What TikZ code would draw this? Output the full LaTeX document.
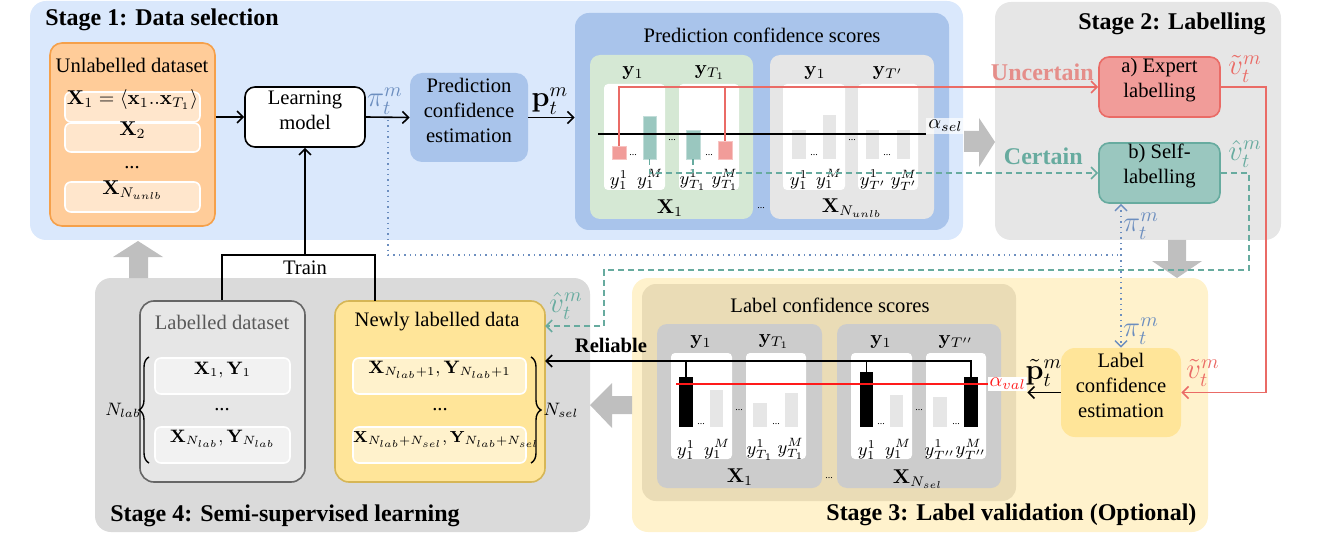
\documentclass[tikz,border=0pt]{standalone}
\usepackage{amsmath}
\usepackage[no-math]{fontspec}
\setmainfont{Liberation Serif}
\usetikzlibrary{fit,arrows.meta,decorations.pathreplacing}
\definecolor{sOneBg}{HTML}{DAE8FC}
\definecolor{blueBox}{HTML}{A9C4EB}
\definecolor{piBlue}{HTML}{6C8EBF}
\definecolor{greenPanel}{HTML}{D5E8D4}
\definecolor{pinkFill}{HTML}{F19C99}
\definecolor{redLine}{HTML}{EA6B66}
\definecolor{tealFill}{HTML}{9AC7BF}
\definecolor{tealLine}{HTML}{67AB9F}
\definecolor{grayPanel}{HTML}{E6E6E6}
\definecolor{sThreeBg}{HTML}{FFF2CC}
\definecolor{tanPanel}{HTML}{EADCB6}
\definecolor{midGray}{HTML}{CCCCCC}
\definecolor{yellowBox}{HTML}{FFE599}
\definecolor{yellowLine}{HTML}{D6B656}
\definecolor{sFourBg}{HTML}{DADADA}
\definecolor{orangeFill}{HTML}{FFCC99}
\definecolor{orangeLine}{HTML}{F5A04A}
\definecolor{orangeLight}{HTML}{FFE6CC}
\definecolor{arrowGray}{HTML}{BFBFBF}
\definecolor{uncert}{HTML}{E58E8A}
\definecolor{lightBar}{HTML}{E6E6E6}
\definecolor{rowGray}{HTML}{F2F2F2}
\definecolor{pureRed}{HTML}{FF1A1A}
\newcommand{\mybox}[7]{\node[inner sep=0pt, #2, fit={(#3,#4) (#5,#6)}] (#1) {#7};}
\begin{document}
\begin{tikzpicture}[x=0.5pt, y=-0.5pt,
  font=\fontsize{10.3}{12.5}\selectfont,
  arr/.style={-{Straight Barb[length=3pt,width=6pt]}},
  title/.style={font=\fontsize{12}{14}\selectfont\bfseries, inner sep=0pt},
  lbl/.style={font=\small, inner sep=0pt},
  dots/.style={font=\tiny, inner sep=0pt},
  big/.style={font=\fontsize{14.4}{16}\selectfont, inner sep=0pt},
  txt/.style={inner sep=0pt},
  wbox/.style={fill=white, rounded corners=2pt},
  rowbox/.style={draw=white, line width=0.8pt, rounded corners=3pt},
  srow/.style={rowbox, font=\small},
  bg/.style={rounded corners=8pt},
  panel/.style={rounded corners=5pt},
  proc/.style={rounded corners=6pt, align=center}]
\useasboundingbox (0,0) rectangle (1332,534);
% stage backgrounds
\mybox{s1}{bg, fill=sOneBg}{30}{1}{963}{240}{}
\mybox{s2}{bg, fill=grayPanel}{995}{2}{1281}{240}{}
\mybox{s3}{bg, fill=sThreeBg}{632}{278}{1208}{532}{}
\mybox{s4}{bg, fill=sFourBg}{95}{278}{590}{532}{}
% block arrows
\fill[arrowGray] (138,241) -- (163,257) -- (148,257) -- (148,278) -- (129,278) -- (129,257) -- (113,257) -- cycle;
\fill[arrowGray] (995,142) -- (979,167) -- (979,152) -- (964,152) -- (964,131) -- (979,131) -- (979,118) -- cycle;
\fill[arrowGray] (1177,278) -- (1202,261) -- (1186,261) -- (1186,240) -- (1168,240) -- (1168,261) -- (1152,261) -- cycle;
\fill[arrowGray] (590,405) -- (612,383) -- (612,396) -- (632,396) -- (632,414) -- (612,414) -- (612,428) -- cycle;
% titles
\node[title, anchor=west] (t1) at (45,20) {Stage 1: Data selection};
\node[title, anchor=east] (t2) at (1266,24) {Stage 2: Labelling};
\node[title, anchor=west] (t3) at (826,515) {Stage 3: Label validation (Optional)};
\node[title, anchor=west] (t4) at (110,516) {Stage 4: Semi-supervised learning};
% ---------- Stage 1 ----------
\mybox{unl}{fill=orangeFill, draw=orangeLine, line width=0.8pt, rounded corners=6pt}{50}{43}{215}{226}{}
\node[txt] (unlt) at (132,65) {Unlabelled dataset};
\mybox{ur1}{rowbox, fill=orangeLight}{65}{92}{200}{122}{$\mathbf{X}_1=\langle\mathbf{x}_1..\mathbf{x}_{T_1}\rangle$}
\mybox{ur2}{rowbox, fill=orangeLight}{65}{123}{200}{152}{$\mathbf{X}_2$}
\node[txt] (urd) at (132,168) {...};
\mybox{ur3}{rowbox, fill=orangeLight}{65}{182}{200}{212}{$\mathbf{X}_{N_{unlb}}$}
\mybox{lm}{proc, fill=white, draw=black, line width=0.8pt, rounded corners=5pt}{245}{87}{365}{147}{Learning\\model}
\mybox{pce}{proc, fill=blueBox}{410}{73}{528}{162}{Prediction\\confidence\\estimation}
\mybox{pp}{panel, fill=blueBox, rounded corners=7pt}{575}{13}{949}{230}{}
\node[txt] (ppt) at (762,35) {Prediction confidence scores};
\mybox{gp}{panel, fill=greenPanel}{590}{55}{753}{219}{}
\mybox{yp}{panel, fill=grayPanel}{770}{55}{934}{219}{}
\mybox{w1}{wbox}{604}{84}{665}{190}{}
\mybox{w2}{wbox}{679}{84}{739}{190}{}
\mybox{w3}{wbox}{783}{84}{845}{190}{}
\mybox{w4}{wbox}{858}{84}{918}{190}{}
\node[txt] (h1) at (633,73) {$\mathbf{y}_1$};
\node[txt] (h2) at (710,73) {$\mathbf{y}_{T_1}$};
\node[txt] (h3) at (815,73) {$\mathbf{y}_1$};
\node[txt] (h4) at (888,73) {$\mathbf{y}_{T'}$};
\mybox{pink1}{fill=pinkFill, draw=pinkFill!60!white, line width=0.4pt}{612}{146}{626}{159}{}
\mybox{teal1}{fill=tealFill, draw=tealFill!60!white, line width=0.4pt}{643}{116}{656}{159}{}
\mybox{teal2}{fill=tealFill, draw=tealFill!60!white, line width=0.4pt}{686}{130}{700}{159}{}
\mybox{pink2}{fill=pinkFill, draw=pinkFill!60!white, line width=0.4pt}{718}{141}{732}{159}{}
\mybox{g1}{fill=lightBar}{792}{130}{806}{159}{}
\mybox{g2}{fill=lightBar}{823}{115}{836}{159}{}
\mybox{g3}{fill=lightBar}{866}{130}{879}{159}{}
\mybox{g4}{fill=lightBar}{897}{130}{910}{159}{}
\node[dots] (d1) at (633,155) {...};
\node[dots] (d2) at (709,155) {...};
\node[dots] (d3) at (814,155) {...};
\node[dots] (d4) at (887,155) {...};
\node[dots] (d5) at (672,140) {...};
\node[dots] (d6) at (852,140) {...};
\node[dots] (d7) at (761,208) {...};
\node[lbl] (l1) at (619,180) {$y_1^1$};
\node[lbl] (l2) at (650,179) {$y_1^M$};
\node[lbl] (l3) at (693,180) {$y_{T_1}^1$};
\node[lbl] (l4) at (725,180) {$y_{T_1}^M$};
\node[lbl] (l5) at (799,180) {$y_1^1$};
\node[lbl] (l6) at (829,179) {$y_1^M$};
\node[lbl] (l7) at (873,180) {$y_{T'}^1$};
\node[lbl] (l8) at (904,180) {$y_{T'}^M$};
\node[txt] (x1a) at (670,208) {$\mathbf{X}_1$};
\node[txt] (x1b) at (852,208) {$\mathbf{X}_{N_{unlb}}$};
\node[txt, anchor=south west, fill=white, fill opacity=0.7, text opacity=1, inner sep=1pt] (asel) at (926,134) {$\alpha_{sel}$};
\coordinate (thr) at (598,134);
\draw[line width=0.8pt] (thr) -- (asel.south west);
% ---------- Stage 2 ----------
\node[title, anchor=east, text=uncert] (unc) at (1094,72) {Uncertain};
\node[title, anchor=east, text=tealLine] (cer) at (1083,156) {Certain};
\mybox{exp}{proc, fill=pinkFill, draw=redLine, line width=0.8pt, rounded corners=5pt}{1099}{57}{1220}{117}{a) Expert\\labelling}
\mybox{self}{proc, fill=tealFill, draw=tealLine, line width=0.8pt, rounded corners=5pt}{1099}{143}{1220}{203}{b) Self-\\labelling}
\node[big, text=redLine] (vt1) at (1245,69) {$\tilde{v}_t^m$};
\node[big, text=tealLine] (vh1) at (1245,154) {$\hat{v}_t^m$};
% ---------- Stage 3 ----------
\mybox{tp}{panel, fill=tanPanel, rounded corners=7pt}{642}{284}{1016}{501}{}
\node[txt] (tpt) at (830,305) {Label confidence scores};
\mybox{c1}{panel, fill=midGray}{657}{324}{822}{488}{}
\mybox{c2}{panel, fill=midGray}{837}{324}{1001}{488}{}
\mybox{v1}{wbox}{671}{353}{732}{459}{}
\mybox{v2}{wbox}{746}{353}{806}{459}{}
\mybox{v3}{wbox}{851}{353}{912}{459}{}
\mybox{v4}{wbox}{926}{353}{986}{459}{}
\node[txt] (k1) at (701,342) {$\mathbf{y}_1$};
\node[txt] (k2) at (774,342) {$\mathbf{y}_{T_1}$};
\node[txt] (k3) at (881,342) {$\mathbf{y}_1$};
\node[txt] (k4) at (956,342) {$\mathbf{y}_{T''}$};
\mybox{b1}{fill=black}{679}{377}{693}{427}{}
\mybox{q1}{fill=lightBar}{710}{390}{723}{427}{}
\mybox{q2}{fill=lightBar}{753}{403}{767}{427}{}
\mybox{q3}{fill=lightBar}{785}{393}{798}{427}{}
\mybox{b2}{fill=black}{860}{372}{873}{427}{}
\mybox{q4}{fill=lightBar}{890}{395}{903}{427}{}
\mybox{q5}{fill=lightBar}{933}{397}{947}{427}{}
\mybox{b3}{fill=black}{964}{377}{978}{427}{}
\node[dots] (e1) at (701,424) {...};
\node[dots] (e2) at (776,424) {...};
\node[dots] (e3) at (881,424) {...};
\node[dots] (e4) at (956,424) {...};
\node[dots] (e5) at (739,410) {...};
\node[dots] (e6) at (919,410) {...};
\node[dots] (e7) at (829,478) {...};
\node[lbl] (m1) at (686,450) {$y_1^1$};
\node[lbl] (m2) at (717,449) {$y_1^M$};
\node[lbl] (m3) at (760,450) {$y_{T_1}^1$};
\node[lbl] (m4) at (791,449) {$y_{T_1}^M$};
\node[lbl] (m5) at (867,450) {$y_1^1$};
\node[lbl] (m6) at (898,449) {$y_1^M$};
\node[lbl] (m7) at (940,450) {$y_{T''}^1$};
\node[lbl] (m8) at (971,449) {$y_{T''}^M$};
\node[txt] (x3a) at (740,477) {$\mathbf{X}_1$};
\node[txt] (x3b) at (918,479) {$\mathbf{X}_{N_{sel}}$};
\node[txt, anchor=west, fill=white, text=pureRed, inner sep=0.6pt] (aval) at (988,384) {$\alpha_{val}$};
\coordinate (vthr) at (676,384);
\draw[pureRed, line width=1pt] (vthr) -- (aval.west);
\mybox{lce}{proc, fill=yellowBox, rounded corners=7pt}{1061}{348}{1181}{437}{Label\\confidence\\estimation}
\node[big] (pt2) at (1044,373) {$\tilde{\mathbf{p}}_t^m$};
\node[big, text=redLine] (vt2) at (1203,373) {$\tilde{v}_t^m$};
% ---------- Stage 4 ----------
\mybox{lab}{fill=grayPanel, draw=black!60, line width=0.8pt, rounded corners=7pt}{140}{301}{305}{482}{}
\node[txt, text=black!65] (labt) at (222,322) {Labelled dataset};
\mybox{lr1}{srow, fill=rowGray}{155}{358}{290}{394}{$\mathbf{X}_1,\mathbf{Y}_1$}
\node[txt] (lrd) at (222,410) {...};
\mybox{lr2}{srow, fill=rowGray}{155}{427}{290}{463}{$\mathbf{X}_{N_{lab}},\mathbf{Y}_{N_{lab}}$}
\mybox{new}{fill=yellowBox, draw=yellowLine, line width=0.8pt, rounded corners=7pt}{335}{301}{545}{482}{}
\node[txt] (newt) at (437,322) {Newly labelled data};
\mybox{nr1}{srow, fill=sThreeBg}{353}{358}{526}{394}{$\mathbf{X}_{N_{lab}+1},\mathbf{Y}_{N_{lab}+1}$}
\node[txt] (nrd) at (440,410) {...};
\mybox{nr2}{rowbox, font=\footnotesize, fill=sThreeBg}{353}{427}{526}{463}{$\mathbf{X}_{N_{lab}+N_{sel}},\mathbf{Y}_{N_{lab}+N_{sel}}$}
\coordinate (lbA) at (149,463);
\coordinate (lbB) at (149,357);
\draw[line width=0.7pt, decorate, decoration={brace, amplitude=5pt}] (lbA) -- (lbB);
\node[txt, font=\small] (nlab) at (123,410) {$N_{lab}$};
\coordinate (rbA) at (531,357);
\coordinate (rbB) at (531,463);
\draw[line width=0.7pt, decorate, decoration={brace, amplitude=5pt}] (rbA) -- (rbB);
\node[txt, font=\small] (nsel) at (561,410) {$N_{sel}$};
\node[txt] (train) at (305,268) {Train};
\node[font=\fontsize{10.3}{12}\selectfont\bfseries, inner sep=0pt] (rel) at (611,345) {Reliable};
\node[big, text=tealLine] (vh2) at (566,306) {$\hat{v}_t^m$};
% ---------- connectors ----------
\draw[arr, line width=0.8pt] (lm.west -| unl.east) -- (lm.west);
\draw[arr, line width=0.8pt] (lm.east) -- (pce.west);
\node[big, text=piBlue] (pi1) at (385,101) {$\pi_t^m$};
\draw[arr, line width=0.8pt] (pce.east) -- (pp.west |- pce.east);
\node[big] (pt1) at (550,101) {$\mathbf{p}_t^m$};
% dotted pi connector
\coordinate (dA) at (388,120);
\coordinate (dB) at (388,255);
\coordinate (dJ) at (1121,255);
\draw[piBlue, dotted, line width=0.7pt] (dA) -- (dB) -- (dJ);
\draw[piBlue, dotted, line width=0.7pt, arr] (dJ) -- (dJ |- self.south);
\draw[piBlue, dotted, line width=0.7pt, arr] (dJ) -- (dJ |- lce.north);
\node[big, text=piBlue] (pi2) at (1141,226) {$\pi_t^m$};
\node[big, text=piBlue] (pi3) at (1141,331) {$\pi_t^m$};
% red uncertain
\draw[redLine, line width=0.8pt, arr] (pink1.north) |- (exp.west);
\draw[redLine, line width=0.8pt] (pink2.north) -- (pink2.north |- exp.west);
\coordinate (rc) at (1266,87);
\draw[redLine, line width=0.8pt, arr] (exp.east) -- (rc) |- (lce.east);
% teal certain
\draw[tealLine, line width=0.8pt, dash pattern=on 3pt off 2pt, arr] (teal1.south) |- (self.west);
\draw[tealLine, line width=0.8pt, dash pattern=on 3pt off 2pt] (teal2.south) -- (teal2.south |- self.west);
\coordinate (tcA) at (1249,173);
\coordinate (tcB) at (1249,270);
\coordinate (tcC) at (604,270);
\coordinate (tcD) at (545,326);
\draw[tealLine, line width=0.8pt, dash pattern=on 3pt off 2pt, arr] (self.east) -- (tcA) -- (tcB) -- (tcC) |- (tcD);
% stage 3 connectors
\draw[arr, line width=0.8pt] (lce.west) -- (lce.west -| aval.east);
\coordinate (rin) at (545,361);
\draw[arr, line width=0.8pt] (b3.north) |- (rin);
\draw[line width=0.8pt] (b1.north) -- (b1.north |- rin);
\draw[line width=0.8pt] (b2.north) -- (b2.north |- rin);
% train
\coordinate (trL) at (222,255);
\coordinate (trM) at (305,255);
\coordinate (trR) at (375,255);
\coordinate (trRb) at (375,301);
\draw[line width=0.8pt] (lab.north -| trL) -- (trL) -- (trR) -- (trRb);
\draw[arr, line width=0.8pt] (trM) -- (lm.south);
\end{tikzpicture}
\end{document}
